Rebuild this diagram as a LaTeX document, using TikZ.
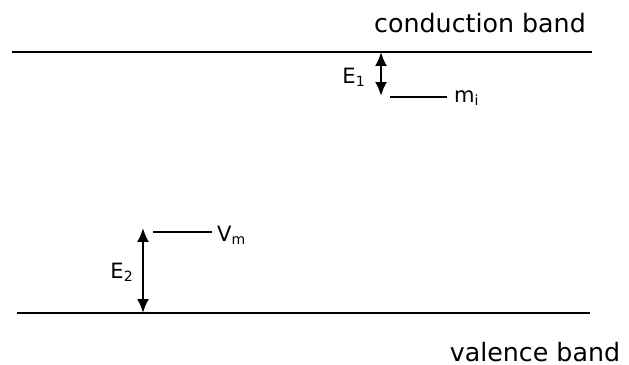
\documentclass[tikz,border=0pt]{standalone}
\usepackage{fontspec}
\setsansfont{DejaVu Sans}
\usetikzlibrary{positioning,arrows.meta}

\begin{document}
\begin{tikzpicture}[x=0.02cm,y=-0.02cm,
 band/.style={very thick,black},
 level/.style={very thick,black},
 gap/.style={{Latex[length=2.8mm,width=2.4mm]}-{Latex[length=2.8mm,width=2.4mm]},very thick},
 lab/.style={font=\sffamily\Large,inner sep=1pt},
 sym/.style={font=\sffamily\large,inner sep=1pt}]
\useasboundingbox (0,0) rectangle (629,365);
% band edges
\coordinate (cbL) at (12,52);
\coordinate (cbR) at (592,52);
\coordinate (vbL) at (17,313);
\coordinate (vbR) at (590,313);
\draw[band] (cbL)--(cbR);
\draw[band] (vbL)--(vbR);
\node[lab] (cb) at (480,23) {conduction band};
\node[lab] (vb) at (535,352) {valence band};
% trap levels
\coordinate (miL) at (390,97);
\coordinate (miR) at (447,97);
\coordinate (vmL) at (153,232);
\coordinate (vmR) at (212,232);
\draw[level] (miL)--(miR);
\draw[level] (vmL)--(vmR);
\node[sym,anchor=west] (mi) at (452,98) {m\textsubscript{i}};
\node[sym,anchor=west] (vm) at (215,235) {V\textsubscript{m}};
% energy gaps
\coordinate (e1top) at (381,52);
\coordinate (e1bot) at (381,96);
\coordinate (e2top) at (143,228);
\coordinate (e2bot) at (143,313);
\draw[gap] (e1top)--(e1bot);
\draw[gap] (e2top)--(e2bot);
\node[sym] (E1) at (354,77) {E\textsubscript{1}};
\node[sym] (E2) at (122,272) {E\textsubscript{2}};
\end{tikzpicture}
\end{document}
